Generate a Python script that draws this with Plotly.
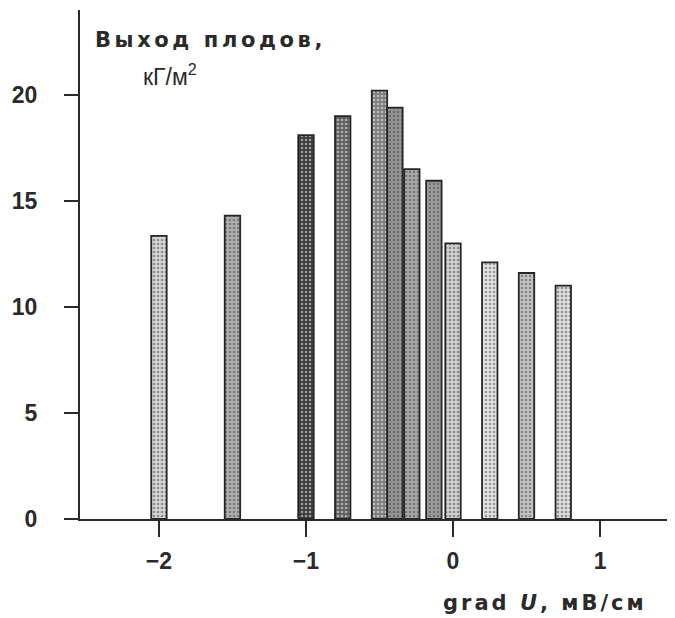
import plotly.graph_objects as go

# data
grad_u = [-2.0, -1.5, -1.0, -0.75, -0.5, -0.395, -0.28, -0.13, 0.0, 0.25, 0.5, 0.75]
yield_kg = [13.35, 14.3, 18.1, 19.0, 20.2, 19.4, 16.5, 15.95, 13.0, 12.1, 11.6, 11.0]
y_ticks = [0, 5, 10, 15, 20]
x_ticks = [-2, -1, 0, 1]
x_tick_labels = ["\u22122", "\u22121", "0", "1"]

# styles
bg_colors = ["#d6d6d6", "#b0b0b0", "#3a3a3a", "#5e5e5e", "#7c7c7c", "#949494",
             "#a8a8a8", "#9c9c9c", "#d0d0d0", "#e4e4e4", "#c4c4c4", "#dcdcdc"]
fg_colors = ["#707070", "#484848", "#1a1a1a", "#262626", "#3a3a3a", "#444444",
             "#4e4e4e", "#464646", "#707070", "#858585", "#5e5e5e", "#7a7a7a"]

fig = go.Figure()
fig.add_trace(go.Bar(
    x=grad_u, y=yield_kg, width=0.105,
    marker=dict(
        color=bg_colors,
        line=dict(color="#262626", width=1.8),
        pattern=dict(shape=".", fgcolor=fg_colors, bgcolor=bg_colors,
                     size=4, solidity=0.35, fillmode="overlay"),
    ),
    showlegend=False,
))

font = "Liberation Sans, Arial, sans-serif"
wide = "DejaVu Sans, Liberation Sans, sans-serif"
ink = "#2a2a2a"
fig.update_layout(
    width=667, height=610,
    margin=dict(l=72, r=0, t=2, b=99),
    plot_bgcolor="white", paper_bgcolor="white",
    font=dict(family=font, color=ink),
    xaxis=dict(
        range=[-2.537, 1.51], tickvals=x_ticks, ticktext=x_tick_labels,
        showline=True, linecolor=ink, linewidth=2,
        ticks="outside", ticklen=16, tickwidth=1.8, tickcolor=ink,
        ticklabelstandoff=4,
        showgrid=False, zeroline=False,
        tickfont=dict(size=23, weight="bold", family=font, color=ink),
    ),
    yaxis=dict(
        range=[0, 24.0], tickvals=y_ticks,
        showline=True, linecolor=ink, linewidth=2,
        ticks="outside", ticklen=14, tickwidth=1.8, tickcolor=ink,
        ticklabelstandoff=22,
        showgrid=False, zeroline=False,
        tickfont=dict(size=23, weight="bold", family=font, color=ink),
    ),
    annotations=[
        dict(text='<span style="letter-spacing:3.6px">Выход плодов,</span>',
             xref="paper", yref="paper", x=0.022, y=0.941,
             xanchor="left", yanchor="middle", showarrow=False,
             font=dict(size=21, weight="bold", family=wide, color=ink)),
        dict(text="кГ/м<sup>2</sup>", xref="paper", yref="paper", x=0.102, y=0.872,
             xanchor="left", yanchor="middle", showarrow=False,
             font=dict(size=23, family=font, color=ink)),
        dict(text='<span style="letter-spacing:3px">grad <i>U</i>, мВ/см</span>',
             xref="paper", yref="paper", x=0.957, y=-0.165,
             xanchor="right", yanchor="middle", showarrow=False,
             font=dict(size=21, weight="bold", family=wide, color=ink)),
    ],
)

fig.write_html("out.html")
